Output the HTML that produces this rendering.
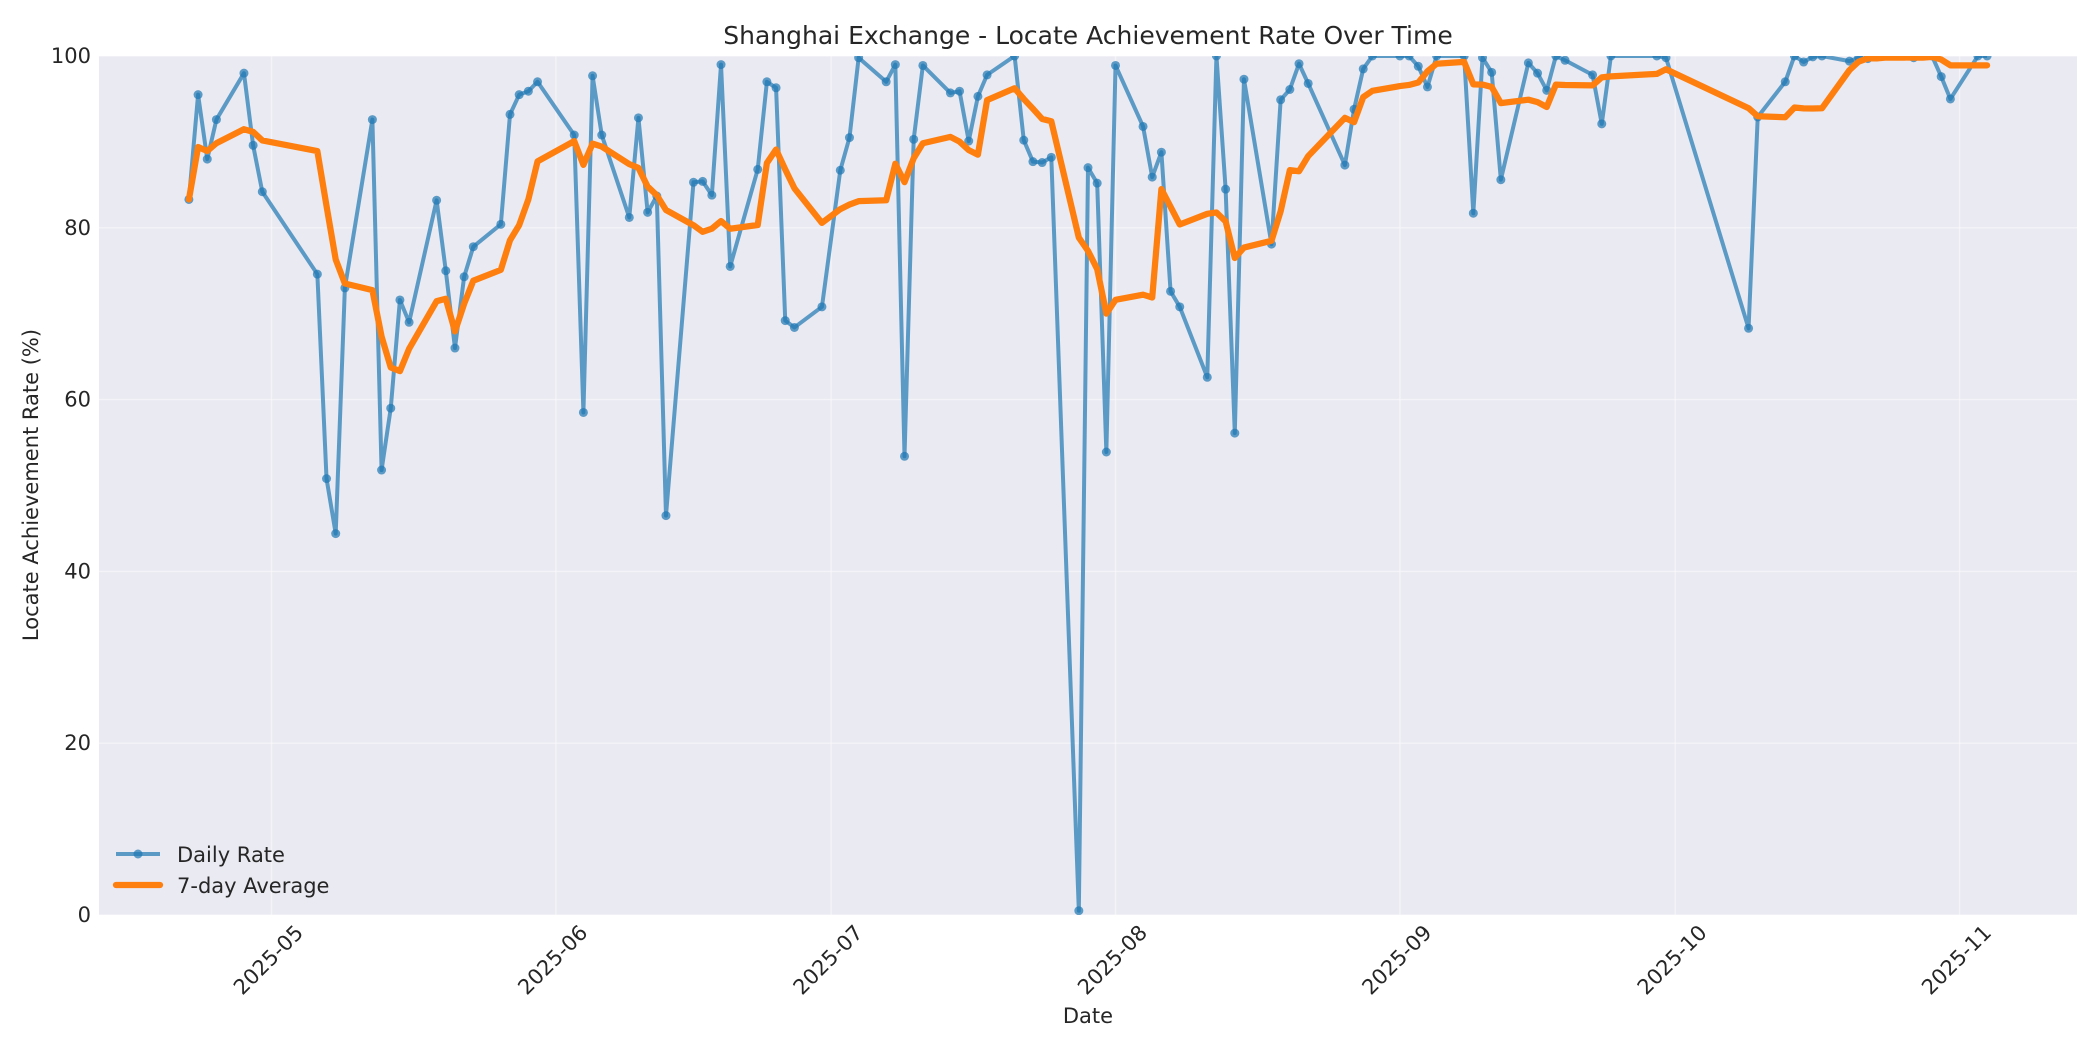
<!DOCTYPE html>
<html><head><meta charset="utf-8">
<style>
html,body{margin:0;padding:0;background:#fff;}
svg{display:block;font-family:"DejaVu Sans","Liberation Sans",sans-serif;}
</style></head>
<body>
<svg id="chart" width="2100" height="1050" viewBox="0 0 2100 1050" xmlns="http://www.w3.org/2000/svg">
<defs><clipPath id="plotclip"><rect x="99" y="56" width="1978" height="859"/></clipPath></defs>
<rect x="99" y="56" width="1978" height="859" fill="#eaeaf2"/>
<g id="grid"></g>
<g id="marks" clip-path="url(#plotclip)"></g>
<g id="axes"></g>
<text x="1088" y="44" font-size="25" text-anchor="middle" fill="#262626">Shanghai Exchange - Locate Achievement Rate Over Time</text>
<text x="1088" y="1023" font-size="21" text-anchor="middle" fill="#262626">Date</text>
<text x="0" y="0" font-size="21" text-anchor="middle" fill="#262626" transform="translate(38,485) rotate(-90)">Locate Achievement Rate (%)</text>
<g>
  <g>
    <line x1="116" y1="854" x2="160" y2="854" stroke="#1f77b4" stroke-opacity="0.7" stroke-width="4"/>
    <circle cx="138" cy="854" r="4.5" fill="#1f77b4" fill-opacity="0.7"/>
    <text x="177" y="862" font-size="21" fill="#262626">Daily Rate</text>
  </g>
  <g>
    <line x1="116" y1="885" x2="160" y2="885" stroke="#ff7f0e" stroke-width="6.25" stroke-linecap="round"/>
    <text x="177" y="893" font-size="21" fill="#262626">7-day Average</text>
  </g>
</g>
</svg>
<script>
const dates = ["2025-04-22","2025-04-23","2025-04-24","2025-04-25","2025-04-28","2025-04-29","2025-04-30",
"2025-05-06","2025-05-07","2025-05-08","2025-05-09",
"2025-05-12","2025-05-13","2025-05-14","2025-05-15","2025-05-16",
"2025-05-19","2025-05-20","2025-05-21","2025-05-22","2025-05-23",
"2025-05-26","2025-05-27","2025-05-28","2025-05-29","2025-05-30",
"2025-06-03","2025-06-04","2025-06-05","2025-06-06",
"2025-06-09","2025-06-10","2025-06-11","2025-06-12","2025-06-13",
"2025-06-16","2025-06-17","2025-06-18","2025-06-19","2025-06-20",
"2025-06-23","2025-06-24","2025-06-25","2025-06-26","2025-06-27",
"2025-06-30","2025-07-02","2025-07-03","2025-07-04",
"2025-07-07","2025-07-08","2025-07-09","2025-07-10","2025-07-11",
"2025-07-14","2025-07-15","2025-07-16","2025-07-17","2025-07-18",
"2025-07-21","2025-07-22","2025-07-23","2025-07-24","2025-07-25",
"2025-07-28","2025-07-29","2025-07-30","2025-07-31","2025-08-01",
"2025-08-04","2025-08-05","2025-08-06","2025-08-07","2025-08-08",
"2025-08-11","2025-08-12","2025-08-13","2025-08-14","2025-08-15",
"2025-08-18","2025-08-19","2025-08-20","2025-08-21","2025-08-22",
"2025-08-26","2025-08-27","2025-08-28","2025-08-29",
"2025-09-01","2025-09-02","2025-09-03","2025-09-04","2025-09-05",
"2025-09-08","2025-09-09","2025-09-10","2025-09-11","2025-09-12",
"2025-09-15","2025-09-16","2025-09-17","2025-09-18","2025-09-19",
"2025-09-22","2025-09-23","2025-09-24",
"2025-09-29","2025-09-30",
"2025-10-09","2025-10-10",
"2025-10-13","2025-10-14","2025-10-15","2025-10-16","2025-10-17",
"2025-10-20","2025-10-21","2025-10-22","2025-10-23","2025-10-24",
"2025-10-27","2025-10-28","2025-10-29","2025-10-30","2025-10-31",
"2025-11-03","2025-11-04"];
const dailyRate = [83.3,95.5,88.0,92.6,98.0,89.6,84.2,
74.6,50.8,44.4,73.0,
92.6,51.8,59.0,71.6,69.0,
83.2,75.0,66.0,74.3,77.8,
80.4,93.2,95.5,95.9,97.0,
90.8,58.5,97.7,90.8,
81.2,92.8,81.8,83.7,46.5,
85.3,85.4,83.8,99.0,75.5,
86.8,97.0,96.3,69.2,68.4,
70.8,86.7,90.5,99.8,
97.0,99.0,53.4,90.3,98.9,
95.7,95.9,90.1,95.3,97.8,
100,90.2,87.7,87.6,88.2,
0.5,87.0,85.2,53.9,98.9,
91.8,85.9,88.8,72.6,70.8,
62.6,100,84.5,56.1,97.3,
78.1,94.9,96.1,99.1,96.8,
87.3,93.8,98.5,100,
100,100,98.8,96.4,100,
100,81.7,99.8,98.1,85.6,
99.2,98.0,96.0,100,99.5,
97.8,92.1,100,
100,99.8,
68.3,92.9,
97.0,100,99.3,99.9,100,
99.4,99.8,99.7,100,100,
99.8,100,100,97.6,95.0,
100,100];
const yTicks = [0,20,40,60,80,100];
const xTickLabels = ["2025-05","2025-06","2025-07","2025-08","2025-09","2025-10","2025-11"];
const rollingWindow = 7;

const NS = "http://www.w3.org/2000/svg";
const PL = 99, PR = 2077, PT = 56, PB = 915;
const t = dates.map(d => Date.parse(d + "T00:00:00Z"));
const tmin = Math.min(...t), tmax = Math.max(...t);
const pad = (tmax - tmin) * 0.05;
const x0 = tmin - pad, x1 = tmax + pad;
function xs(v){ return PL + (v - x0) / (x1 - x0) * (PR - PL); }
function ys(v){ return PB - (v - 0) / (100 - 0) * (PB - PT); }
function mk(tag, attrs, parent){ const e = document.createElementNS(NS, tag); for (const k in attrs) e.setAttribute(k, attrs[k]); parent.appendChild(e); return e; }

const grid = document.getElementById('grid');
const axes = document.getElementById('axes');
const marks = document.getElementById('marks');

yTicks.forEach(v => {
  const g = mk('line', {x1:PL, x2:PR, y1:ys(v), y2:ys(v), stroke:'#ffffff', 'stroke-opacity':0.45, 'stroke-width':1.4}, grid);
  
  
  const tx = mk('text', {x:91, y:ys(v)+7, 'font-size':21, 'text-anchor':'end', fill:'#262626'}, axes);
  
  
  tx.textContent = v;
});
xTickLabels.forEach(lbl => {
  const v = Date.parse(lbl + "-01T00:00:00Z");
  const x = xs(v);
  const g = mk('line', {x1:x, x2:x, y1:PT, y2:PB, stroke:'#ffffff', 'stroke-opacity':0.45, 'stroke-width':1.4}, grid);
  
  
  const tx = mk('text', {x:0, y:0, 'font-size':21, 'text-anchor':'middle', 'dominant-baseline':'central', fill:'#262626', transform:`translate(${x-3},${960}) rotate(-45)`}, axes);
  
  
  tx.textContent = lbl;
});

const avg = dailyRate.map((_, i) => {
  const s = Math.max(0, i - rollingWindow + 1);
  const sl = dailyRate.slice(s, i + 1);
  return sl.reduce((a, b) => a + b, 0) / sl.length;
});

const bluePts = t.map((v, i) => xs(v).toFixed(2) + ',' + ys(dailyRate[i]).toFixed(2)).join(' ');
const bl = mk('polyline', {points:bluePts, fill:'none', stroke:'#1f77b4', 'stroke-opacity':0.7, 'stroke-width':4, 'stroke-linejoin':'round'}, marks);


t.forEach((v, i) => {
  const c = mk('circle', {cx:xs(v), cy:ys(dailyRate[i]), r:4.5, fill:'#1f77b4', 'fill-opacity':0.7}, marks);
  
  
});
const orPts = t.map((v, i) => xs(v).toFixed(2) + ',' + ys(avg[i]).toFixed(2)).join(' ');
const ol = mk('polyline', {points:orPts, fill:'none', stroke:'#ff7f0e', 'stroke-width':6.25, 'stroke-linejoin':'round', 'stroke-linecap':'round'}, marks);


</script>
</body></html>
